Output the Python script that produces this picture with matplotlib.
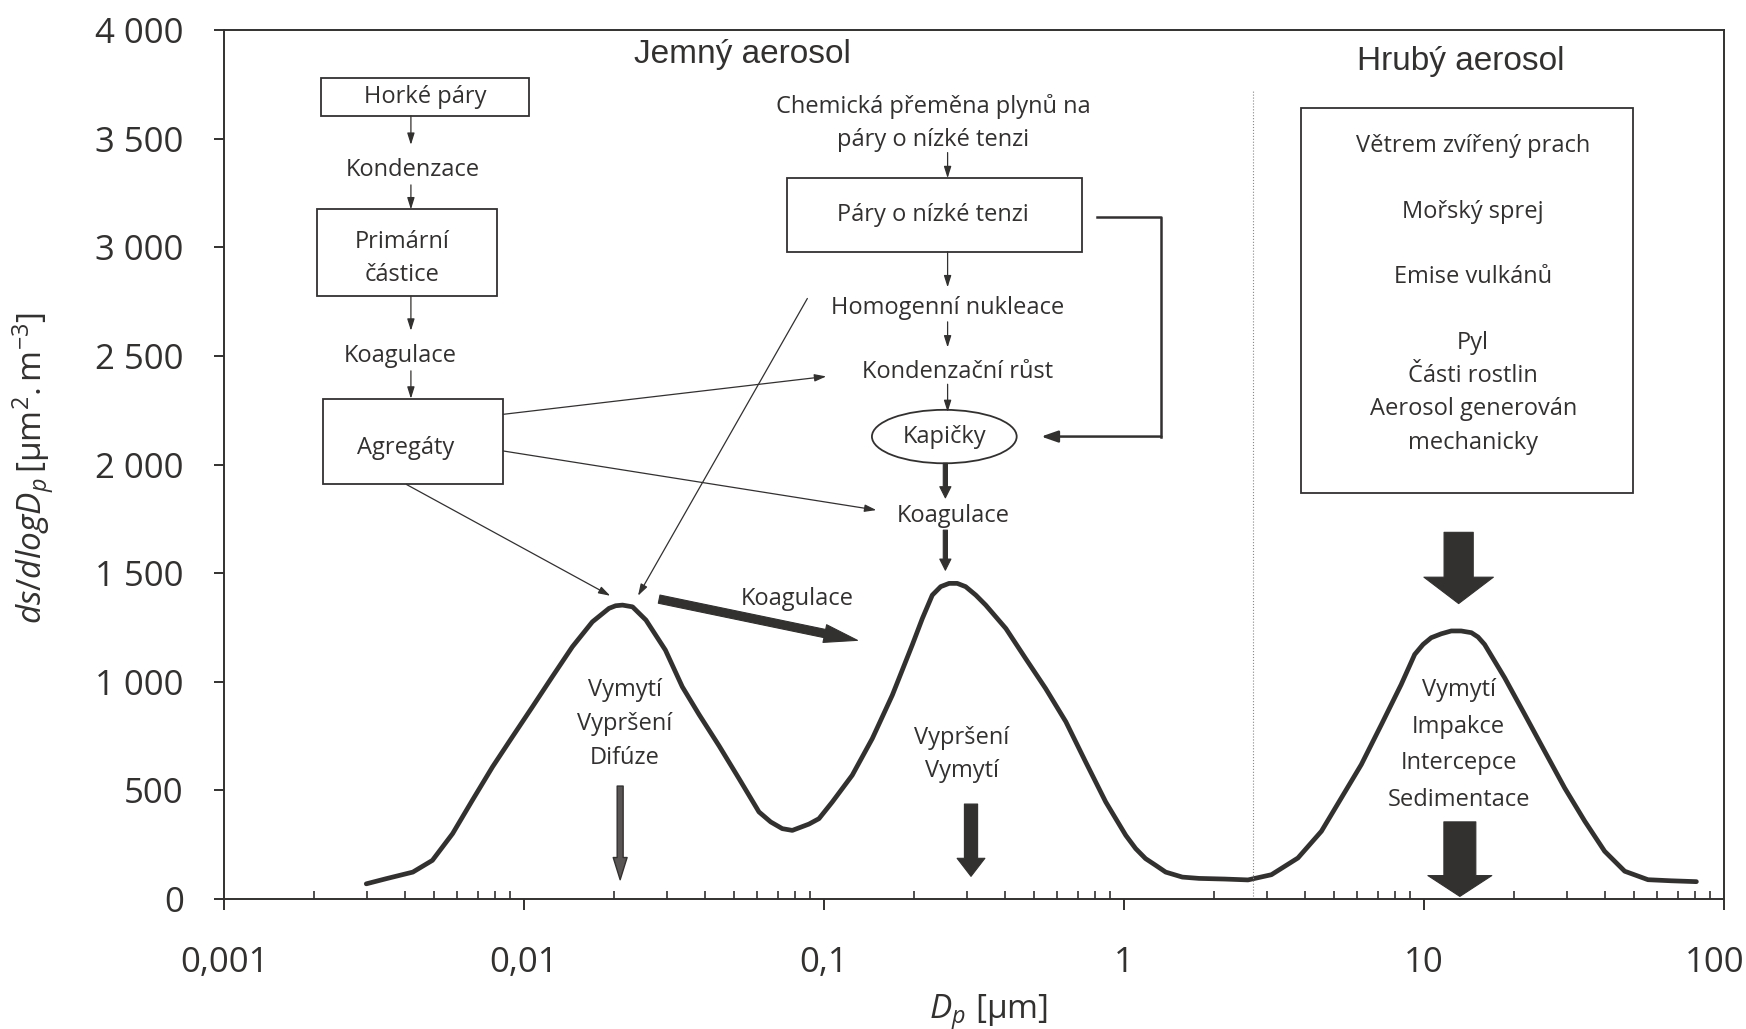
import numpy as np
import matplotlib.pyplot as plt
from matplotlib.patches import Rectangle, Ellipse, FancyArrowPatch
from matplotlib.ticker import LogLocator, NullFormatter
from matplotlib.transforms import ScaledTranslation

plt.rcParams['font.family'] = ['Open Sans', 'DejaVu Sans']
plt.rcParams['mathtext.fontset'] = 'custom'
plt.rcParams['mathtext.rm'] = 'Open Sans'
plt.rcParams['mathtext.it'] = 'Open Sans:italic'

# surface distribution ds/dlogDp [um2.m-3] over particle diameter Dp [um]
dp = [0.00298, 0.00348, 0.00426, 0.00495, 0.00578, 0.00673, 0.00785, 0.00914,
      0.01067, 0.01242, 0.01449, 0.0169, 0.0192, 0.0202, 0.0213, 0.0230,
      0.0255, 0.0296, 0.0337, 0.0383, 0.0447, 0.0521, 0.0607, 0.0664,
      0.0726, 0.0784, 0.0891, 0.0962, 0.1066, 0.1242, 0.1449, 0.169,
      0.1968, 0.2128, 0.2296, 0.2449, 0.2612, 0.278, 0.2965, 0.3206,
      0.346, 0.404, 0.47, 0.548, 0.64, 0.745, 0.869, 1.014,
      1.094, 1.18, 1.276, 1.377, 1.565, 1.778, 2.168, 2.59,
      3.1, 3.8, 4.55, 5.3, 6.18, 7.21, 8.39, 9.31,
      9.93, 10.57, 11.42, 12.33, 13.3, 14.39, 15.14, 15.92,
      18.58, 21.68, 25.23, 29.44, 34.36, 40.0, 46.67, 55.8,
      66.7, 80.9]
ds = [70, 94, 124, 178, 301, 455, 608, 746,
      885, 1023, 1161, 1276, 1338, 1350, 1353, 1345,
      1284, 1146, 977, 850, 705, 554, 401, 355,
      324, 316, 345, 370, 447, 570, 739, 939,
      1169, 1292, 1399, 1438, 1453, 1453, 1438, 1399,
      1353, 1245, 1107, 969, 816, 631, 447, 293,
      232, 186, 155, 124, 101, 95, 92, 88,
      112, 189, 312, 465, 619, 803, 987, 1126,
      1172, 1203, 1221, 1234, 1234, 1226, 1206, 1172,
      1018, 849, 681, 511, 358, 220, 128, 89,
      84, 80]

x_ticks = [0.001, 0.01, 0.1, 1, 10, 100]
x_tick_labels = ['0,001', '0,01', '0,1', '1', '10', '100']
y_ticks = [0, 500, 1000, 1500, 2000, 2500, 3000, 3500, 4000]
y_tick_labels = ['0', '500', '1 000', '1 500', '2 000', '2 500', '3 000', '3 500', '4 000']

fine_boundary = 2.7  # um, fine / coarse split

coarse_sources = ['Větrem zvířený prach', 'Mořský sprej', 'Emise vulkánů',
                  'Pyl\nČásti rostlin\nAerosol generován\nmechanicky']
coarse_sinks = 'Vymytí\nImpakce\nIntercepce\nSedimentace'

INK = '#333030'
FS = 17

fig = plt.figure(figsize=(17.46, 10.29), dpi=100)
ax = fig.add_axes([0.1283, 0.1263, 0.8591, 0.8445])

ax.plot(dp, ds, color=INK, lw=3.4, solid_capstyle='round', solid_joinstyle='round')
ax.axvline(fine_boundary, ymin=0, ymax=0.93, color='#888888', lw=0.8, ls=':')

ax.set_xscale('log')
ax.set_xticks(x_ticks, x_tick_labels)
ax.xaxis.set_minor_locator(LogLocator(base=10, subs=np.arange(2, 10)))
ax.xaxis.set_minor_formatter(NullFormatter())
ax.set_yticks(y_ticks, y_tick_labels)
ax.tick_params(axis='x', which='major', direction='out', length=8, width=1.4,
               pad=26, labelsize=25, colors=INK)
ax.tick_params(axis='x', which='minor', direction='in', length=5.5, width=1.2, colors=INK)
ax.tick_params(axis='y', direction='out', length=7, width=1.4, pad=22,
               labelsize=25, colors=INK)
for sp in ax.spines.values():
    sp.set_linewidth(1.4)
    sp.set_color(INK)

# keep the last x label inside the figure
last = ax.xaxis.get_major_ticks()[-1].label1
last.set_horizontalalignment('right')
last.set_transform(last.get_transform() + ScaledTranslation(0.2, 0, fig.dpi_scale_trans))

T = ax.transAxes


def text(x, y, s, size=FS, **kw):
    kw.setdefault('linespacing', 1.52)
    ax.text(x, y, s, transform=T, ha='center', va='center', fontsize=size,
            color=INK, **kw)


def box(x0, x1, y0, y1, lw=1.3):
    ax.add_patch(Rectangle((x0, y0), x1 - x0, y1 - y0, transform=T,
                           fill=False, ec=INK, lw=lw))


def thin(p0, p1, lw=0.9):
    ax.add_patch(FancyArrowPatch(p0, p1, transform=T, mutation_scale=1,
                                 arrowstyle='-|>,head_length=7,head_width=2.2',
                                 color=INK, lw=lw, shrinkA=0, shrinkB=0))


def bold(p0, p1, tail, head_w, head_l, fc=INK, lw=0.8):
    style = f'simple,head_length={head_l},head_width={head_w},tail_width={tail}'
    ax.add_patch(FancyArrowPatch(p0, p1, transform=T, mutation_scale=1,
                                 arrowstyle=style, fc=fc, ec=INK, lw=lw,
                                 shrinkA=0, shrinkB=0))


# headings
ax.text(0.3458, 0.972, 'Jemný aerosol', transform=T, ha='center', va='center',
        fontsize=24, family=['Liberation Sans'], color=INK)
ax.text(0.8246, 0.964, 'Hrubý aerosol', transform=T, ha='center', va='center',
        fontsize=24, family=['Liberation Sans'], color=INK)

# primary particles chain
box(0.0645, 0.2033, 0.9013, 0.9448)
text(0.134, 0.9225, 'Horké páry')
thin((0.1246, 0.9013), (0.1246, 0.8679))
text(0.1261, 0.8385, 'Kondenzace')
thin((0.1246, 0.8218), (0.1246, 0.7936))
box(0.0622, 0.1817, 0.6937, 0.7936)
text(0.1185, 0.7372, 'Primární\nčástice')
thin((0.1246, 0.6937), (0.1246, 0.654))
text(0.1172, 0.6245, 'Koagulace')
thin((0.1246, 0.6078), (0.1246, 0.5758))
box(0.066, 0.1862, 0.4771, 0.5758)
text(0.1209, 0.5194, 'Agregáty')

# secondary particles chain
text(0.4727, 0.8936, 'Chemická přeměna plynů na\npáry o nízké tenzi', linespacing=1.5)
thin((0.4824, 0.859), (0.4824, 0.8295))
box(0.3755, 0.5722, 0.7449, 0.8295)
text(0.4727, 0.7872, 'Páry o nízké tenzi')
thin((0.4824, 0.7449), (0.4824, 0.7039))
text(0.4824, 0.6796, 'Homogenní nukleace')
thin((0.4824, 0.6642), (0.4824, 0.6347))
text(0.4891, 0.6065, 'Kondenzační růst')
thin((0.4824, 0.5924), (0.4824, 0.5604))
ax.add_patch(Ellipse((0.4802, 0.5322), 0.0965, 0.0615, transform=T,
                     fill=False, ec=INK, lw=1.3))
text(0.4802, 0.5322, 'Kapičky')
bold((0.4809, 0.5015), (0.4809, 0.4617), 3, 8, 8)
text(0.4861, 0.4412, 'Koagulace')
bold((0.4809, 0.4245), (0.4809, 0.3784), 3, 8, 8)

# vapour bypass straight into droplets
ax.plot([0.5819, 0.6249, 0.6249], [0.7846, 0.7846, 0.5322], transform=T,
        color=INK, lw=1.8)
ax.add_patch(FancyArrowPatch((0.6249, 0.5322), (0.5448, 0.5322), transform=T,
                             mutation_scale=1,
                             arrowstyle='-|>,head_length=10,head_width=3.5',
                             color=INK, lw=1.8, shrinkA=0, shrinkB=0))

# cross links
thin((0.1862, 0.5578), (0.4015, 0.6014))
thin((0.1862, 0.5156), (0.4349, 0.4476))
thin((0.1216, 0.4771), (0.2575, 0.349))
thin((0.3889, 0.6911), (0.276, 0.349))

# nucleation -> accumulation
bold((0.2901, 0.3451), (0.4223, 0.2977), 6, 13, 24)
text(0.3822, 0.3451, 'Koagulace')

# removal processes, fine modes
text(0.2671, 0.2016, 'Vymytí\nVypršení\nDifúze', linespacing=1.55)
bold((0.2641, 0.13), (0.2641, 0.0222), 4.3, 10, 16, fc='#5a5555', lw=1.0)
text(0.492, 0.1669, 'Vypršení\nVymytí', linespacing=1.5)
bold((0.498, 0.1093), (0.498, 0.0261), 9.5, 20, 13)

# coarse mode sources and sinks
box(0.7177, 0.939, 0.4669, 0.9102)
for y, s in zip([0.8667, 0.791, 0.7154, 0.5828], coarse_sources):
    text(0.8328, y, s)
bold((0.8231, 0.422), (0.8231, 0.34), 21, 50, 19)
text(0.8231, 0.1773, coarse_sinks, linespacing=1.69)
bold((0.8239, 0.0888), (0.8239, 0.003), 23, 46, 15)

ax.set_xlim(0.001, 100)
ax.set_ylim(0, 4000)

fig.text(0.0189, 0.545, r'$ds/dlogD_p\,[\mathrm{μm}^2\mathrm{.m}^{-3}]$', rotation=90,
         ha='center', va='center', fontsize=24, color=INK)
fig.text(0.566, 0.016, r'$D_p\ [\mathrm{μm}]$', ha='center', va='center',
         fontsize=24, color=INK)

fig.savefig('out.png', dpi=100, facecolor='white')
